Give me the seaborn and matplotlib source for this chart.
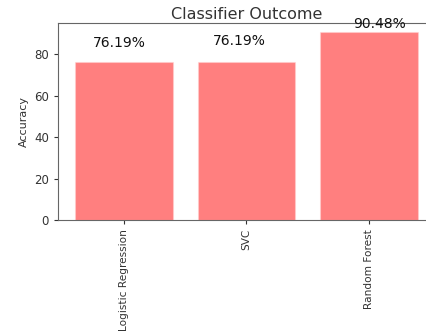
import matplotlib
matplotlib.use("Agg")
import matplotlib.pyplot as plt
import seaborn as sns
import pandas as pd

classifiers = ["Logistic Regression", "SVC", "Random Forest"]
accuracy = [76.19, 76.19, 90.48]
labels = ["76.19%", "76.19%", "90.48%"]

sns.set_style("ticks")
plt.rcParams['font.family'] = ['DejaVu Sans']

df = pd.DataFrame({"Classifier": classifiers, "Accuracy": accuracy})

fig = plt.figure(figsize=(4.27, 3.34), dpi=100)
ax = fig.add_axes([58 / 427, (334 - 220) / 334, (435 - 58) / 427, (220 - 23) / 334])
sns.barplot(data=df, x="Classifier", y="Accuracy", color="red", alpha=0.5,
            saturation=1, width=0.8, ax=ax, edgecolor="#ffd0d0", linewidth=0.8)

ax.set_ylim(0, max(accuracy) * 1.05)
ax.set_xlim(-0.54, 2.54)
ax.set_title("Classifier Outcome", fontsize=11.5, color="#333333", pad=3)
ax.set_xlabel("")
ax.set_ylabel("Accuracy", fontsize=8, color="#333333")
ax.tick_params(axis="x", labelrotation=90, labelsize=7.6, colors="#333333", length=3)
ax.tick_params(axis="y", labelsize=8.5, colors="#333333", length=3)
for s in ax.spines.values():
    s.set_color("#666666")
    s.set_visible(True)
ax.spines["right"].set_visible(False)

dx = [-0.04, -0.06, 0.09]
dy = [7.0, 8.0, 2.0]
for i, (v, t) in enumerate(zip(accuracy, labels)):
    ax.text(i + dx[i], v + dy[i], t, ha="center", va="baseline", fontsize=10, color="#111111")

fig.savefig("out.png", dpi=100)
